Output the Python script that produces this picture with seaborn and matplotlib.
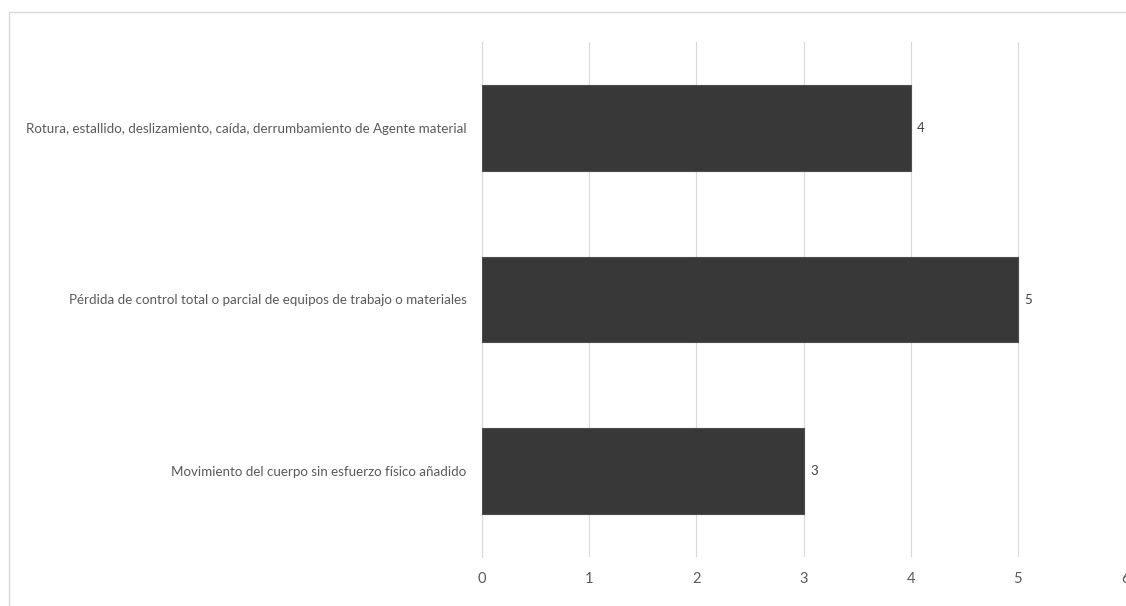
import matplotlib
matplotlib.use("Agg")
import matplotlib.pyplot as plt
import seaborn as sns
import pandas as pd
from matplotlib.patches import Rectangle

# Chart data (top to bottom)
categories = [
    "Rotura, estallido, deslizamiento, caída, derrumbamiento de Agente material",
    "Pérdida de control total o parcial de equipos de trabajo o materiales",
    "Movimiento del cuerpo sin esfuerzo físico añadido",
]
counts = [4, 5, 3]
x_ticks = [0, 1, 2, 3, 4, 5, 6]

sns.set_style("white")
plt.rcParams["font.family"] = ["Lato", "DejaVu Sans"]

df = pd.DataFrame({"categoria": categories, "n": counts})

fig = plt.figure(figsize=(11.26, 6.06), dpi=100)
# chart frame (cropped on right and bottom)
fig.patches.append(Rectangle((9 / 1126, -0.1), 1.2, 1 - 12 / 606 + 0.1,
                             transform=fig.transFigure, fill=False,
                             edgecolor="#d9d9d9", linewidth=1))
ax = fig.add_axes([482 / 1126, 1 - 557 / 606, (1125 - 482) / 1126, (557 - 42) / 606])

sns.barplot(data=df, x="n", y="categoria", orient="h", color="#383838",
            width=0.5, edgecolor="#4d4d4d", linewidth=0.8, ax=ax, zorder=3)

for i, v in enumerate(counts):
    ax.text(v + 0.06, i, str(v), va="center", ha="left", fontsize=9.5, color="#404040")

ax.set_xlim(0, 6)
ax.set_xticks(x_ticks)
ax.set_xticklabels([str(t) for t in x_ticks], fontsize=10.5, color="#595959")
ax.tick_params(axis="x", length=0, pad=11)
ax.tick_params(axis="y", length=0, pad=11, labelsize=9.6, labelcolor="#595959")
ax.set_xlabel("")
ax.set_ylabel("")
ax.grid(axis="x", color="#d9d9d9", linewidth=0.8, zorder=0)
ax.grid(axis="y", visible=False)
for s in ["top", "right", "bottom"]:
    ax.spines[s].set_visible(False)
ax.spines["left"].set_color("#d9d9d9")
ax.spines["left"].set_linewidth(0.8)
ax.set_facecolor("none")

fig.savefig("out.png", dpi=100)
